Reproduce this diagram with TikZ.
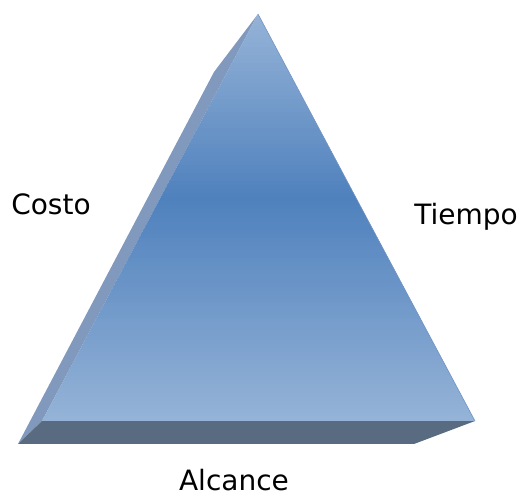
\documentclass[tikz,border=0pt]{standalone}
\usepackage{fontspec}
\setmainfont{DejaVu Sans}
\definecolor{FaceLight}{HTML}{95B3D7}
\definecolor{FaceDark}{HTML}{4F81BD}
\definecolor{SideFace}{HTML}{8099BD}
\definecolor{BaseFace}{HTML}{596B80}
\definecolor{EdgeLine}{HTML}{7393C4}

\begin{document}
\begin{tikzpicture}[x=1pt, y=1pt, label/.style={font=\fontsize{28}{34}\selectfont, anchor=base}]
    \useasboundingbox (0,0) rectangle (521,497);

    % Corners of the pyramid
    \coordinate (Apex) at (258,483);
    \coordinate (SideTop) at (214,425);
    \coordinate (FrontLeft) at (42,76);
    \coordinate (FrontRight) at (475,76);
    \coordinate (BaseLeft) at (18,53);
    \coordinate (BaseRight) at (414,53);

    % Left side face
    \fill[SideFace] (Apex) -- (SideTop) -- (BaseLeft) -- (FrontLeft) -- cycle;

    % Bottom face
    \fill[BaseFace] (FrontLeft) -- (FrontRight) -- (BaseRight) -- (BaseLeft) -- cycle;

    % Front face, light - dark - light in strips
    \begin{scope}
        \clip (Apex) -- (FrontLeft) -- (FrontRight) -- cycle;
        \foreach \i in {0,...,99} {
            \pgfmathtruncatemacro\m{\i<54 ? 100*(54-\i)/54 : 100*(\i-54)/45}
            \fill[FaceLight!\m!FaceDark] (30,76+\i*4.07) rectangle (490,76+\i*4.07+5);
        }
    \end{scope}
    \draw[EdgeLine, line width=0.6pt] (Apex) -- (FrontRight);

    % Labels
    \node (Costo) [label] at (51,282) {Costo};
    \node (Tiempo) [label] at (466,272) {Tiempo};
    \node (Alcance) [label] at (234,6) {Alcance};
\end{tikzpicture}
\end{document}
